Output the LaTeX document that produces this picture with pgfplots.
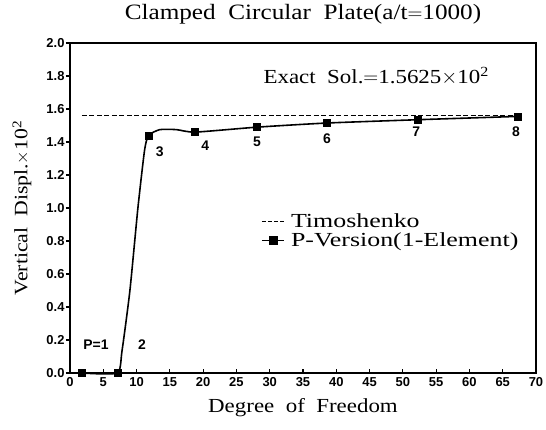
\documentclass[border=0pt]{standalone}
\usepackage{fontspec}
\setmainfont{Liberation Serif}
\setsansfont{Liberation Sans}
\newfontfamily\wserif[FakeStretch=1.15]{Liberation Serif}
\newfontfamily\wwserif[FakeStretch=1.3]{Liberation Serif}
\usepackage{pgfplots}
\pgfplotsset{compat=1.18}
\begin{document}
\begin{tikzpicture}
\begin{axis}[
  name=ax, at={(0,0)}, anchor=south west,
  scale only axis, width=466bp, height=330bp,
  xmin=0, xmax=70, ymin=0, ymax=2,
  xtick={0,5,...,70},
  ytick={0,0.2,0.4,0.6,0.8,1.0,1.2,1.4,1.6,1.8,2.0},
  yticklabel style={xshift=-2bp, /pgf/number format/.cd, fixed, fixed zerofill, precision=1},
  /pgf/number format/assume math mode=true,
  ticklabel style={font=\sffamily\bfseries\fontsize{13}{14}\selectfont},
  xticklabel style={yshift=-1bp},
  tick align=inside, xtick pos=bottom, ytick pos=left,
  major tick length=4bp,
  ytick style={xshift=-4bp},
  tick style={black, line width=1.2pt},
  axis line style={line width=1.5pt},
  title={\wserif\fontsize{22}{24}\selectfont Clamped\ \ Circular\ \ Plate(a/t$=$1000)},
  title style={at={(axis description cs:0.5,1.07)}, anchor=center},
  xlabel={\wserif\fontsize{20}{24}\selectfont Degree\ \ of\ \ Freedom},
  xlabel style={at={(axis description cs:0.5,-0.106)}, anchor=center},
  ylabel={\wserif\fontsize{19}{24}\selectfont Vertical\ \ Displ.$\times$10\textsuperscript{2}},
  ylabel style={at={(axis description cs:-0.103,0.5)}, anchor=center},
  legend style={draw=none, fill=none, at={(axis description cs:0.41,0.485)}, anchor=north west,
    font=\wwserif\fontsize{20}{22}\selectfont, row sep=3bp, column sep=6bp, inner sep=0pt,
    nodes={inner sep=0.5pt}},
  legend cell align=left,
  clip=false,
]
% Timoshenko exact solution
\addplot[forget plot, black, line width=1.3pt, dash pattern=on 5pt off 2.5pt] coordinates {(1.8,1.5625) (68,1.5625)};
% P-version curve
\addplot[forget plot, black, line width=1.6pt, smooth, tension=0.35] coordinates {
(1.8,0) (7.1,0) (7.8,0.13) (9.0,0.5) (10.2,1.0) (11.2,1.35) (11.8,1.44)
(13.5,1.475) (16,1.475) (18.8,1.46) (28.1,1.49) (38.6,1.515) (52.2,1.535) (67.2,1.555)};
\addplot[forget plot, only marks, mark=square*, mark size=3.5bp, black] coordinates {
(1.8,0) (7.1,0) (11.8,1.44) (18.8,1.46) (28.1,1.49) (38.6,1.515) (52.2,1.535) (67.2,1.555)};
\addlegendimage{legend image code/.code={\draw[black, line width=1.3pt, dash pattern=on 4pt off 2pt] (0bp,0bp) -- (22bp,0bp);}}
\addlegendentry{Timoshenko}
\addlegendimage{legend image code/.code={\draw[black, line width=1.3pt] (0bp,0bp) -- (22bp,0bp); \draw[black, mark=square*, mark size=4bp] plot coordinates {(11bp,0bp)};}}
\addlegendentry{P-Version(1-Element)}
% point labels
\begin{scope}[every node/.style={font=\sffamily\bfseries\fontsize{14}{15}\selectfont}]
\node at (axis cs:3.9,0.17) {P=1};
\node at (axis cs:10.8,0.17) {2};
\node at (axis cs:13.5,1.34) {3};
\node at (axis cs:20.3,1.375) {4};
\node at (axis cs:28.1,1.40) {5};
\node at (axis cs:38.6,1.42) {6};
\node at (axis cs:52,1.465) {7};
\node at (axis cs:67,1.465) {8};
\end{scope}
\node[font=\wserif\fontsize{20}{22}\selectfont] at (axis cs:46,1.8) {Exact\ \ Sol.$=$1.5625$\times$10\textsuperscript{2}};
\end{axis}
\pgfresetboundingbox
\path (ax.south west) ++(-70bp,-57bp) rectangle ++(546bp,430bp);
\end{tikzpicture}
\end{document}
